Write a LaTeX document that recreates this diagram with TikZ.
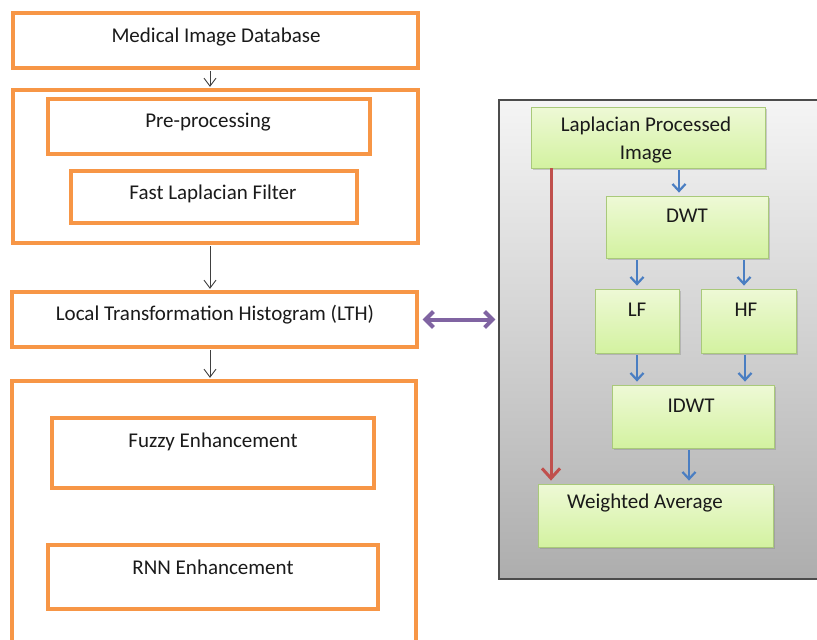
\documentclass[tikz,border=0pt]{standalone}
\usepackage{fontspec}
\setmainfont{Carlito}
\usetikzlibrary{arrows.meta,shadows,calc}
\definecolor{orng}{HTML}{F79646}
\definecolor{gbord}{HTML}{A9C97A}
\definecolor{gtop}{HTML}{EEF9D6}
\definecolor{gbot}{HTML}{D3F2A0}
\definecolor{bluea}{HTML}{4A7EC2}
\definecolor{reda}{HTML}{C0504D}
\definecolor{purp}{HTML}{8064A2}
\definecolor{txt}{HTML}{1A1A1A}
\tikzset{
  obox/.style={draw=orng, line width=3.2pt, fill=white, inner sep=0pt},
  gbox/.style={draw=gbord, line width=0.8pt, top color=gtop, bottom color=gbot, inner sep=0pt,
     drop shadow={shadow xshift=1.5pt, shadow yshift=-1.5pt, opacity=0.35}},
  lbl/.style={text=txt, font=\fontsize{21}{25}\selectfont, inner sep=0pt, anchor=center},
  blk/.style={draw=black!75, line width=0.9pt, -{Straight Barb[length=8pt,width=12pt]}},
  blu/.style={draw=bluea, line width=2.2pt, -{Straight Barb[length=7pt,width=13pt]}, shorten <=2pt, shorten >=3pt},
}
\newcommand{\bx}[6]{\node[#1, minimum width=#4-#2, minimum height=#5-#3] (#6) at ({(#2+#4)/2},{(#3+#5)/2}) {};}
\begin{document}
\begin{tikzpicture}[x=1pt,y=-1pt]
\useasboundingbox (0,0) rectangle (817,640);
\begin{scope}
\clip (0,0) rectangle (817,640);
% left column
\bx{obox}{13}{13}{418}{68}{mid}
\bx{obox}{13}{90}{418}{243}{pre}
\bx{obox}{48}{99}{370}{154}{pp}
\bx{obox}{71}{171}{357}{223}{flf}
\bx{obox}{12}{292}{417}{347}{lth}
\bx{obox}{12}{381}{416}{700}{enh}
\bx{obox}{52}{418}{374}{488}{fuz}
\bx{obox}{48}{545}{378}{609}{rnn}
\node[lbl] (tmid) at (216,37) {Medical Image Database};
\node[lbl] (tpp) at (208,122) {Pre-processing};
\node[lbl] (tflf) at (213,194) {Fast Laplacian Filter};
\node[lbl] (tlth) at (215,315) {Local Transformation Histogram (LTH)};
\node[lbl] (tfuz) at (213,442) {Fuzzy Enhancement};
\node[lbl] (trnn) at (213,567) {RNN Enhancement};
\draw[blk] (mid.south -| 210,0) ++(0,1.5) -- ($(pre.north -| 210,0)+(0,-1.5)$);
\draw[blk] ($(pre.south -| 210,0)+(0,1.5)$) -- ($(lth.north -| 210,0)+(0,-1.5)$);
\draw[blk] ($(lth.south -| 210,0)+(0,1.5)$) -- ($(enh.north -| 210,0)+(0,-1.5)$);
% right panel
\node[draw=black!70, line width=1.2pt, top color=black!4, bottom color=black!32, inner sep=0pt,
  minimum width=340, minimum height=479] (panel) at (669,339.5) {};
\draw[purp, line width=4pt, {Straight Barb[length=8pt,width=16pt]}-{Straight Barb[length=8pt,width=16pt]}]
  ($(lth.east)+(4,0)$) -- ($(panel.west |- lth.east)+(-3,0)$);
\bx{gbox}{531}{107}{765}{168}{lpi}
\bx{gbox}{606}{196}{768}{258}{dwt}
\bx{gbox}{595}{289}{679}{353}{lf}
\bx{gbox}{701}{289}{796}{353}{hf}
\bx{gbox}{612}{385}{774}{448}{idwt}
\bx{gbox}{538}{484}{773}{547}{wa}
\node[lbl] (tlpi1) at (646,126) {Laplacian Processed};
\node[lbl] (tlpi2) at (646,155) {Image};
\node[lbl] (tdwt) at (687,216) {DWT};
\node[lbl] (tlf) at (637,310) {LF};
\node[lbl] (thf) at (746,310) {HF};
\node[lbl] (tidwt) at (691,406) {IDWT};
\node[lbl] (twa) at (645,503) {Weighted Average};
\draw[blu] (lpi.south -| 679,0) -- (dwt.north -| 679,0);
\draw[blu] (dwt.south -| 637,0) -- (lf.north -| 637,0);
\draw[blu] (dwt.south -| 744,0) -- (hf.north -| 744,0);
\draw[blu] (lf.south -| 637,0) -- (idwt.north -| 637,0);
\draw[blu] (hf.south -| 745,0) -- (idwt.north -| 745,0);
\draw[blu] (idwt.south -| 689,0) -- (wa.north -| 689,0);
\draw[reda, line width=3pt, -{Straight Barb[length=10pt,width=18pt]}, shorten >=3pt]
  (lpi.south -| 551,0) -- (wa.north -| 551,0);
\end{scope}
\end{tikzpicture}
\end{document}
